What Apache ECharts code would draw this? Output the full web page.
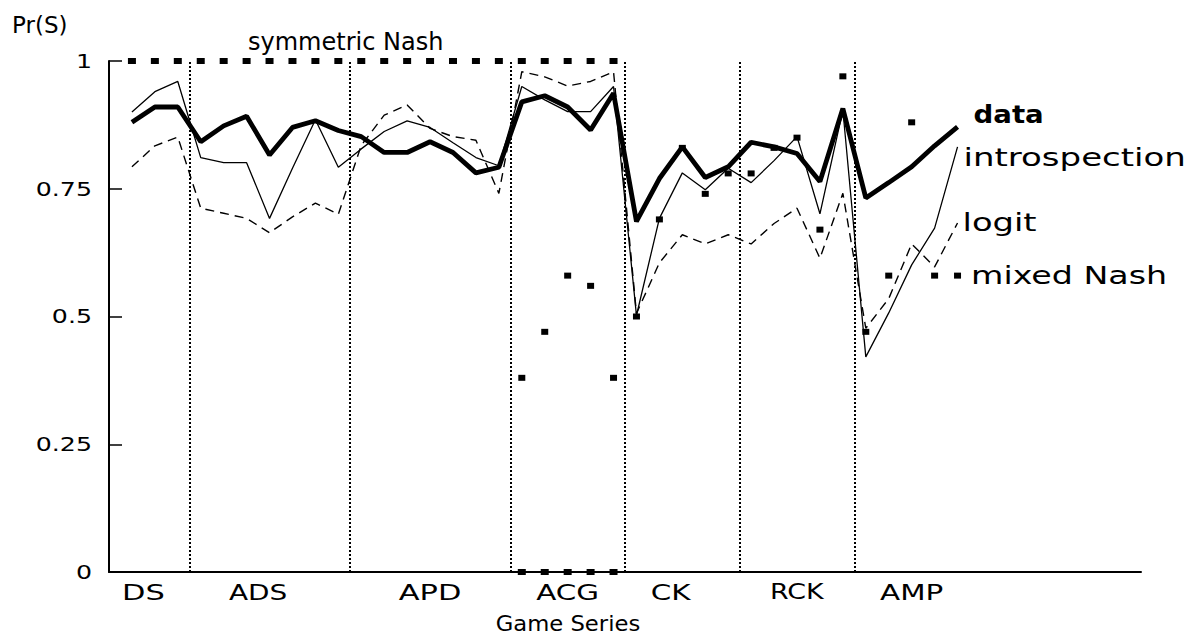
<!DOCTYPE html>
<html>
<head>
<meta charset="utf-8">
<script src="https://cdn.jsdelivr.net/npm/echarts@6/dist/echarts.min.js"></script>
<style>
  html, body { margin: 0; padding: 0; background: #fff; }
  #chart { width: 1190px; height: 637px; }
</style>
</head>
<body>
<div id="chart"></div>
<script>
// ---- data ----
const groups = ['DS', 'ADS', 'APD', 'ACG', 'CK', 'RCK', 'AMP'];
const groupSizes = [3, 7, 7, 5, 5, 5, 5];
const groupLabelPos = [0.5, 5.5, 13, 19, 23.5, 29, 34];

const dataSeries = [
  0.88, 0.91, 0.91,
  0.842, 0.873, 0.892, 0.816, 0.870, 0.883, 0.864,
  0.852, 0.821, 0.821, 0.842, 0.821, 0.781, 0.792,
  0.920, 0.932, 0.910, 0.865, 0.937,
  0.686, 0.770, 0.832, 0.772, 0.793,
  0.841, 0.832, 0.819, 0.764, 0.907,
  0.732, 0.762, 0.793, 0.834, 0.871
];
const introspection = [
  0.90, 0.94, 0.96,
  0.811, 0.801, 0.801, 0.692, 0.790, 0.885, 0.792,
  0.828, 0.862, 0.883, 0.870, 0.840, 0.811, 0.795,
  0.950, 0.924, 0.901, 0.901, 0.950,
  0.502, 0.692, 0.781, 0.748, 0.790,
  0.762, 0.805, 0.852, 0.701, 0.904,
  0.421, 0.507, 0.601, 0.673, 0.832
];
const logit = [
  0.793, 0.834, 0.851,
  0.712, 0.702, 0.692, 0.664, 0.695, 0.722, 0.700,
  0.835, 0.894, 0.914, 0.868, 0.852, 0.845, 0.741,
  0.979, 0.969, 0.951, 0.960, 0.979,
  0.506, 0.605, 0.660, 0.642, 0.660,
  0.642, 0.682, 0.712, 0.614, 0.741,
  0.477, 0.535, 0.642, 0.597, 0.683
];
const mixedNash = [
  null, null, null,
  null, null, null, null, null, null, null,
  null, null, null, null, null, null, null,
  0.38, 0.47, 0.58, 0.56, 0.38,
  0.50, 0.69, 0.83, 0.74, 0.78,
  0.78, 0.83, 0.85, 0.67, 0.97,
  0.47, 0.58, 0.88, 0.58, 0.58
];
const symmetricNashHigh = [
  1, 1, 1,
  1, 1, 1, 1, 1, 1, 1,
  1, 1, 1, 1, 1, 1, 1,
  1, 1, 1, 1, 1,
  null, null, null, null, null,
  null, null, null, null, null,
  null, null, null, null, null
];
const symmetricNashLow = [
  null, null, null,
  null, null, null, null, null, null, null,
  null, null, null, null, null, null, null,
  0, 0, 0, 0, 0,
  null, null, null, null, null,
  null, null, null, null, null,
  null, null, null, null, null
];
const yTicks = [0, 0.25, 0.5, 0.75, 1];

// ---- horizontal stretch of text (the reference face is wider than any installed font) ----
const textStretch = {
  'Pr(S)': 1.0, 'symmetric Nash': 1.0, 'Game Series': 1.08,
  'data': 1.15, 'introspection': 1.36, 'logit': 1.35, 'mixed Nash': 1.33,
  '0': 1.33, '0.25': 1.33, '0.5': 1.33, '0.75': 1.33, '1': 1.33,
  'DS': 1.45, 'ADS': 1.33, 'APD': 1.45, 'ACG': 1.4, 'CK': 1.4, 'RCK': 1.28, 'AMP': 1.4
};

// ---- build helpers ----
const pairs = arr => arr.map((v, i) => [i, v]).filter(p => p[1] !== null);
const dividers = [];
{
  let acc = 0;
  for (let g = 0; g < groupSizes.length - 1; g++) {
    acc += groupSizes[g];
    dividers.push(acc - 0.5);
  }
}
const labelMap = {};
groups.forEach((g, i) => { labelMap[groupLabelPos[i]] = g; });

const FONT = 'DejaVu Sans';
const chart = echarts.init(document.getElementById('chart'), null, { renderer: 'svg' });

chart.setOption({
  animation: false,
  backgroundColor: '#fff',
  grid: { left: 109, right: 49, top: 61, bottom: 65, containLabel: false },
  xAxis: {
    type: 'value',
    min: -1, max: 44, interval: 0.5,
    axisLine: { show: true, onZero: false, lineStyle: { color: '#000', width: 2 } },
    axisTick: { show: false },
    splitLine: { show: false },
    axisLabel: {
      show: true, margin: 10,
      color: '#000', fontFamily: FONT, fontSize: 21,
      formatter: v => labelMap[v] || ''
    }
  },
  yAxis: {
    type: 'value',
    min: 0, max: 1, interval: 0.25,
    axisLine: { show: true, onZero: false, lineStyle: { color: '#000', width: 2 } },
    axisTick: { show: true, inside: true, length: 13, lineStyle: { color: '#000', width: 1.5 } },
    splitLine: { show: false },
    axisLabel: {
      margin: 17, color: '#000', fontFamily: FONT, fontSize: 19,
      formatter: v => (yTicks.indexOf(v) >= 0 ? String(v) : '')
    }
  },
  graphic: [
    { type: 'text', x: 12, y: 25, style: { text: 'Pr(S)', fontFamily: FONT, fontSize: 23, fill: '#000', align: 'left', verticalAlign: 'middle' } },
    { type: 'text', x: 248, y: 42, style: { text: 'symmetric Nash', fontFamily: FONT, fontSize: 24, fill: '#000', align: 'left', verticalAlign: 'middle' } },
    { type: 'text', x: 568, y: 624, style: { text: 'Game Series', fontFamily: FONT, fontSize: 21, fill: '#000', align: 'center', verticalAlign: 'middle' } }
  ],
  series: [
    {
      name: 'dividers', type: 'line', data: [], silent: true,
      markLine: {
        silent: true, symbol: 'none',
        label: { show: false },
        lineStyle: { color: '#000', type: [2, 2], width: 2 },
        data: dividers.map(d => ({ xAxis: d }))
      }
    },
    {
      name: 'logit', type: 'line', data: pairs(logit),
      symbol: 'none', z: 3,
      lineStyle: { color: '#000', width: 1.4, type: [9, 6] },
      endLabel: { show: true, formatter: 'logit', color: '#000', fontFamily: FONT, fontSize: 25, offset: [-3, -1] }
    },
    {
      name: 'introspection', type: 'line', data: pairs(introspection),
      symbol: 'none', z: 4,
      lineStyle: { color: '#000', width: 1.3 },
      endLabel: { show: true, formatter: 'introspection', color: '#000', fontFamily: FONT, fontSize: 25, offset: [-2, 10] }
    },
    {
      name: 'data', type: 'line', data: pairs(dataSeries),
      symbol: 'none', z: 5,
      lineStyle: { color: '#000', width: 4.8 },
      endLabel: { show: true, formatter: 'data', color: '#000', fontFamily: FONT, fontSize: 24, fontWeight: 'bold', offset: [8, -12] }
    },
    {
      name: 'mixed Nash', type: 'scatter', data: pairs(mixedNash).map((p, k, arr) => k === arr.length - 1
        ? { value: p, label: { show: true, position: 'right', distance: 10, formatter: 'mixed Nash', color: '#000', fontFamily: FONT, fontSize: 25 } }
        : p),
      symbol: 'rect', symbolSize: [7, 6], z: 6,
      itemStyle: { color: '#000', opacity: 1 }
    },
    {
      name: 'symmetric Nash', type: 'scatter',
      data: pairs(symmetricNashHigh).concat(pairs(symmetricNashLow)),
      symbol: 'rect', symbolSize: [8, 6], z: 6,
      itemStyle: { color: '#000', opacity: 1 }
    }
  ]
});

function applyStretch() {
  const svg = document.querySelector('#chart svg');
  if (!svg) return;
  const sr = svg.getBoundingClientRect();
  svg.querySelectorAll('text').forEach(t => {
    const k = textStretch[t.textContent];
    if (k === undefined || k === 1) return;
    const cur = t.getAttribute('transform') || '';
    if (t.getAttribute('data-st') === cur && cur !== '') return;
    const r = t.getBoundingClientRect();
    const anchor = t.getAttribute('text-anchor') || 'start';
    let ax = r.left - sr.left;
    if (anchor === 'middle') ax = (r.left + r.right) / 2 - sr.left;
    else if (anchor === 'end') ax = r.right - sr.left;
    const next = ('matrix(' + k + ',0,0,1,' + (ax * (1 - k)) + ',0) ' + cur).trim();
    t.setAttribute('transform', next);
    t.setAttribute('data-st', next);
  });
}
chart.on('finished', applyStretch);
setTimeout(applyStretch, 0);
</script>
</body>
</html>
